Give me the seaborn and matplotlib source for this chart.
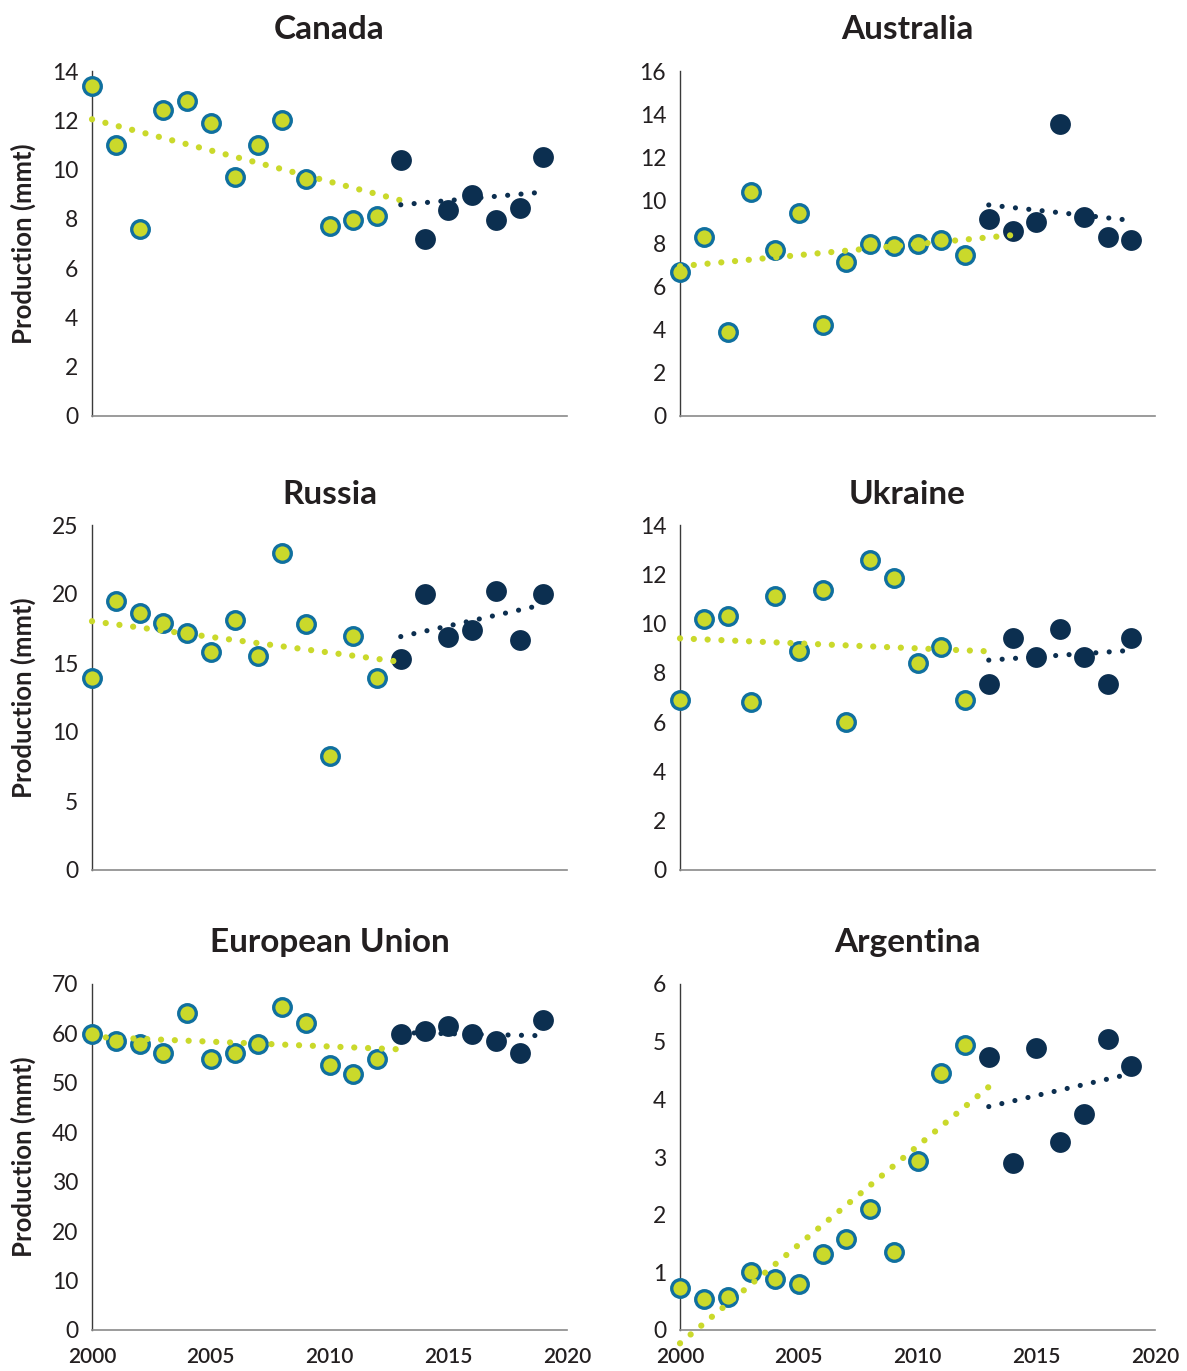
import matplotlib
matplotlib.use("Agg")
import matplotlib.pyplot as plt
import seaborn as sns
import pandas as pd
import numpy as np

# ---------------- data ----------------
years = list(range(2000, 2020))
canada = [13.4, 11.0, 7.6, 12.4, 12.8, 11.9, 9.7, 11.0, 12.0, 9.6, 7.7, 7.95, 8.1,
          10.4, 7.2, 8.35, 8.95, 7.95, 8.45, 10.5]
australia = [6.7, 8.3, 3.9, 10.4, 7.7, 9.4, 4.2, 7.15, 8.0, 7.9, 8.0, 8.15, 7.45,
             9.15, 8.6, 9.0, 13.55, 9.25, 8.3, 8.15]
russia = [13.9, 19.5, 18.6, 17.9, 17.15, 15.8, 18.1, 15.5, 23.0, 17.85, 8.25, 16.95, 13.9,
          15.3, 20.0, 16.9, 17.4, 20.2, 16.7, 20.0]
ukraine = [6.9, 10.2, 10.3, 6.8, 11.1, 8.9, 11.35, 6.0, 12.6, 11.85, 8.4, 9.05, 6.9,
           7.55, 9.4, 8.65, 9.8, 8.65, 7.55, 9.4]
eu = [59.8, 58.4, 57.9, 56.1, 64.1, 54.8, 56.1, 57.9, 65.4, 62.2, 53.6, 51.7, 54.8,
      59.8, 60.4, 61.6, 59.8, 58.5, 56.0, 62.8]
argentina = [0.73, 0.53, 0.57, 1.0, 0.88, 0.79, 1.31, 1.57, 2.1, 1.36, 2.93, 4.46, 4.94,
             4.73, 2.89, 4.89, 3.26, 3.74, 5.04, 4.57]

countries = ["Canada", "Australia", "Russia", "Ukraine", "European Union", "Argentina"]
series = [canada, australia, russia, ukraine, eu, argentina]
y_max = [14, 16, 25, 14, 70, 6]
y_step = [2, 2, 5, 2, 10, 1]
early_trend_end = [2013, 2014, 2013, 2013, 2013, 2013]   # last year in first trend fit
recent_start = 2013                                       # first year of recent period
x_ticks = [2000, 2005, 2010, 2015, 2020]
y_label = "Production (mmt)"

df = pd.DataFrame([
    {"country": c, "year": y, "value": v}
    for c, vals in zip(countries, series) for y, v in zip(years, vals)
])

# ---------------- style ----------------
YELLOW = "#cad92b"
BLUE = "#10709f"
NAVY = "#0c2f50"
TEXT = "#231f20"

sns.set_theme(style="white")
plt.rcParams["font.family"] = ["Lato", "DejaVu Sans"]
plt.rcParams["text.color"] = TEXT

fig = plt.figure(figsize=(11.87, 13.71), dpi=100)
W, H = 1187, 1371
col_left = [92, 680]
row_top = [71, 525, 984]
row_bottom = [416, 870, 1330]
title_pad = [23, 15, 23]
title_x = [0.5, 0.478]
ax_w = 475

for i, name in enumerate(countries):
    r, c = divmod(i, 2)
    ax = fig.add_axes([col_left[c] / W, 1 - row_bottom[r] / H, ax_w / W,
                       (row_bottom[r] - row_top[r]) / H])
    d = df[df.country == name]
    early = d[d.year < recent_start]
    late = d[d.year >= recent_start]

    sns.scatterplot(data=early, x="year", y="value", ax=ax, s=160, color=YELLOW,
                    edgecolor=BLUE, linewidth=2.4, zorder=3, clip_on=False, legend=False)
    sns.scatterplot(data=late, x="year", y="value", ax=ax, s=225, color=NAVY,
                    edgecolor=NAVY, linewidth=0, zorder=3, clip_on=False, legend=False)

    sns.regplot(data=d[d.year <= early_trend_end[i]], x="year", y="value", ax=ax,
                scatter=False, ci=None, truncate=True,
                line_kws=dict(color=YELLOW, lw=4.5, linestyle=(0, (0.01, 2.2)),
                              dash_capstyle="round", zorder=4, clip_on=False))
    sns.regplot(data=late, x="year", y="value", ax=ax,
                scatter=False, ci=None, truncate=True,
                line_kws=dict(color=NAVY, lw=3.7, linestyle=(0, (0.01, 2.6)),
                              dash_capstyle="round", zorder=4, clip_on=False))

    ax.set_xlim(2000, 2020)
    ax.set_ylim(0, y_max[i])
    ax.set_yticks(np.arange(0, y_max[i] + y_step[i] / 2, y_step[i]))
    ax.set_xticks(x_ticks)
    ax.tick_params(axis="y", length=0, pad=10, labelsize=16.5, labelcolor=TEXT)
    ax.tick_params(axis="x", length=0, pad=12, labelsize=15, labelcolor=TEXT)
    if r < 2:
        ax.tick_params(axis="x", labelbottom=False)
    else:
        for lab in ax.get_xticklabels():
            lab.set_fontweight("semibold")

    for s in ["top", "right"]:
        ax.spines[s].set_visible(False)
    ax.spines["left"].set_color("#3a3a3a")
    ax.spines["left"].set_linewidth(1.0)
    ax.spines["bottom"].set_color("#8a8a8a")
    ax.spines["bottom"].set_linewidth(1.2)

    ax.set_xlabel("")
    if c == 0:
        ax.set_ylabel(y_label, fontsize=18.5, fontweight="bold", color=TEXT)
        ax.yaxis.set_label_coords(-0.118, 0.5)
    else:
        ax.set_ylabel("")
    title = ax.set_title(name, fontsize=24, fontweight="bold", color=TEXT, pad=title_pad[r])
    title.set_x(title_x[c])
    ax.patch.set_alpha(0)

fig.savefig("out.png", dpi=100)
